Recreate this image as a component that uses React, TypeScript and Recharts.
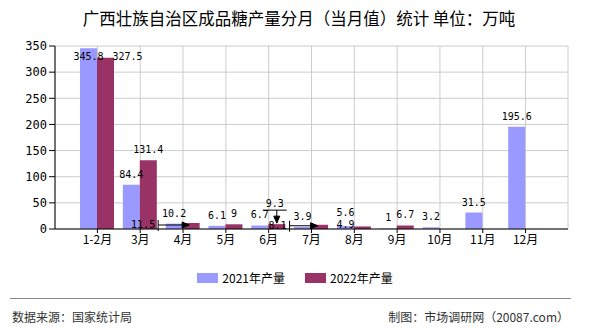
import React from 'react';
import { BarChart, Bar, XAxis, YAxis, CartesianGrid, LabelList } from 'recharts';

const months = ['1-2月', '3月', '4月', '5月', '6月', '7月', '8月', '9月', '10月', '11月', '12月'];
const output2021 = [345.8, 84.4, 10.2, 6.1, 6.7, 3.9, 5.6, 1, 3.2, 31.5, 195.6];
const output2022: (number | null)[] = [327.5, 131.4, 11.5, 9, 9.3, 8.1, 4.9, 6.7, null, null, null];
const yTicks = [0, 50, 100, 150, 200, 250, 300, 350];

const data = months.map((m, i) => ({ month: m, y2021: output2021[i], y2022: output2022[i] }));

const C2021 = '#9999ff';
const C2022 = '#993366';
const numFont = '"DejaVu Sans Mono", monospace';
const cjkFont = '"Noto Sans CJK SC", sans-serif';

type Nudge = { dx: number; dy: number; arrow?: 'right' | 'down' };

// label nudges for crowded small bars, like the source chart does
const nudge2021: Record<number, Nudge> = {
  6: { dx: 0, dy: -3 },
};
const nudge2022: Record<number, Nudge> = {
  0: { dx: 22, dy: 0 },
  2: { dx: -48, dy: 12, arrow: 'right' },
  4: { dx: -2, dy: -10, arrow: 'down' },
  5: { dx: -42, dy: 11, arrow: 'right' },
  6: { dx: -17, dy: 9 },
};

const makeLabel = (nudges: Record<number, Nudge>) => (props: any) => {
  const { x, y, width, value, index } = props;
  if (value == null) return null;
  const n = nudges[index] || { dx: 0, dy: 0 };
  const cx = x + width / 2 + n.dx;
  const base = Math.max(y - 7, 60) + n.dy;
  const half = String(value).length * 3;
  return (
    <g>
      {n.arrow === 'right' && (
        <g stroke="#000" strokeWidth={1}>
          <line x1={cx + half + 3} y1={base - 8} x2={cx + half + 3} y2={base + 3} />
          <line x1={cx + half + 3} y1={base - 3} x2={x + width / 2 - 2} y2={base - 3} />
          <path d={`M${x + width / 2 - 2},${base - 3} l-7,-3 v6 z`} fill="#000" />
        </g>
      )}
      {n.arrow === 'down' && (
        <g stroke="#000" strokeWidth={1}>
          <line x1={cx - half - 3} y1={base + 3} x2={cx + half + 3} y2={base + 3} />
          <line x1={x + width / 2} y1={base + 3} x2={x + width / 2} y2={y - 1} />
          <path d={`M${x + width / 2},${y - 1} l-3,-7 h6 z`} fill="#000" />
        </g>
      )}
      <text x={cx} y={base} textAnchor="middle" fontSize={10} fontFamily={numFont} fill="#000">
        {value}
      </text>
    </g>
  );
};

const Label2021 = makeLabel(nudge2021);
const Label2022 = makeLabel(nudge2022);

export default function App() {
  return (
    <div style={{ position: 'absolute', left: 0, top: 0, width: 590, height: 330, background: '#fff', fontFamily: cjkFont }}>
      <div style={{ position: 'absolute', top: 7, left: 4, width: 590, textAlign: 'center', fontSize: 16.5, lineHeight: '22px', color: '#000' }}>
        广西壮族自治区成品糖产量分月（当月值）统计 单位：万吨
      </div>
      <div style={{ position: 'absolute', left: 0, top: 0 }}>
        <BarChart width={590} height={262} data={data} margin={{ top: 46, right: 22, left: 0, bottom: 3 }} barSize={17} barGap={0}>
          <CartesianGrid stroke="#cccccc" />
          <XAxis
            dataKey="month"
            height={30}
            padding={{ left: 21, right: 21 }}
            axisLine={{ stroke: '#000' }}
            tickLine={{ stroke: '#000' }}
            tickSize={4}
            tick={{ fontSize: 12, fill: '#000', fontFamily: cjkFont }}
          />
          <YAxis
            width={55}
            domain={[0, 350]}
            ticks={yTicks}
            interval={0}
            axisLine={{ stroke: '#000' }}
            tickLine={{ stroke: '#000' }}
            tickSize={6}
            tick={{ fontSize: 12, fill: '#000', fontFamily: numFont }}
          />
          <YAxis yAxisId="edge" orientation="right" width={0} tick={false} tickLine={false} axisLine={{ stroke: '#cccccc' }} />
          <Bar dataKey="y2021" fill={C2021} isAnimationActive={false}>
            <LabelList dataKey="y2021" content={Label2021} />
          </Bar>
          <Bar dataKey="y2022" fill={C2022} isAnimationActive={false}>
            <LabelList dataKey="y2022" content={Label2022} />
          </Bar>
        </BarChart>
      </div>
      <div style={{ position: 'absolute', top: 269, width: 590, display: 'flex', justifyContent: 'center', fontSize: 12, color: '#000' }}>
        <span style={{ display: 'flex', alignItems: 'center', marginRight: 20 }}>
          <span style={{ width: 21, height: 10, background: C2021, marginRight: 4 }} />2021年产量
        </span>
        <span style={{ display: 'flex', alignItems: 'center' }}>
          <span style={{ width: 21, height: 10, background: C2022, marginRight: 4 }} />2022年产量
        </span>
      </div>
      <div style={{ position: 'absolute', left: 10, top: 298, width: 561, borderTop: '1px solid #888' }} />
      <div style={{ position: 'absolute', left: 12, top: 308, fontSize: 12, color: '#333' }}>数据来源：国家统计局</div>
      <div style={{ position: 'absolute', right: 21, top: 308, fontSize: 12, color: '#333' }}>制图：市场调研网（20087.com）</div>
    </div>
  );
}
